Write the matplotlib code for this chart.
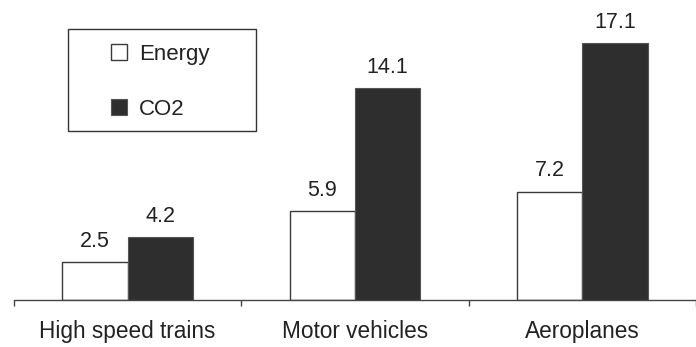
import numpy as np
import matplotlib
matplotlib.use("Agg")
import matplotlib.pyplot as plt
from matplotlib.patches import Patch, Rectangle

plt.rcParams["font.family"] = ["Liberation Sans", "DejaVu Sans"]

modes = ["High speed trains", "Motor vehicles", "Aeroplanes"]
energy = [2.5, 5.9, 7.2]
co2 = [4.2, 14.1, 17.1]

W, H = 696, 347
fig = plt.figure(figsize=(W / 100, H / 100), dpi=100)
ax = fig.add_axes([14 / W, 47 / H, (W - 14) / W, 300 / H])

x = np.arange(len(modes))
width = 0.288
ink = "#2e2e2e"

ax.bar(x - width / 2, energy, width, color="white", edgecolor="#3a3a3a", linewidth=1.0)
ax.bar(x + width / 2, co2, width, color=ink, edgecolor="#555555", linewidth=0.8)

for xs, vals in ((x - width / 2, energy), (x + width / 2, co2)):
    for xi, v in zip(xs, vals):
        ax.annotate(f"{v}", (xi, v), xytext=(0, 11), textcoords="offset points",
                    ha="center", va="baseline", fontsize=15.5, color="#222222")

ax.set_xlim(-0.5, (W - 128.5) / 229.5)
ax.set_ylim(0, 300 / 15.04)

for side in ("left", "right", "top"):
    ax.spines[side].set_visible(False)
ax.spines["bottom"].set_color("#444444")
ax.spines["bottom"].set_linewidth(1.0)
ax.set_yticks([])

ax.set_xticks(x)
ax.set_xticklabels(modes, fontsize=16.3, color="#222222")
ax.tick_params(axis="x", which="major", length=0, pad=14.5)
ax.set_xticks(np.arange(-0.5, len(modes), 1.0), minor=True)
ax.tick_params(axis="x", which="minor", length=4.5, width=1.0, color="#444444")

# legend box drawn separately so the padding around the entries can be wide
fig.patches.append(Rectangle((68 / W, 1 - 131 / H), 188 / W, 102 / H,
                             transform=fig.transFigure, fill=False,
                             edgecolor="#333333", linewidth=1.0))
handles = [Patch(facecolor="white", edgecolor="#3a3a3a", linewidth=1.0, label="Energy"),
           Patch(facecolor=ink, edgecolor="#555555", linewidth=0.8, label="CO2")]
fig.legend(handles=handles, loc="center", bbox_to_anchor=(160.5 / W, 1 - 82 / H),
           frameon=False, fontsize=16, handlelength=0.72, handleheight=0.72,
           handletextpad=0.54, labelspacing=1.54, borderpad=0, labelcolor="#222222")

fig.savefig("out.png", dpi=100)
